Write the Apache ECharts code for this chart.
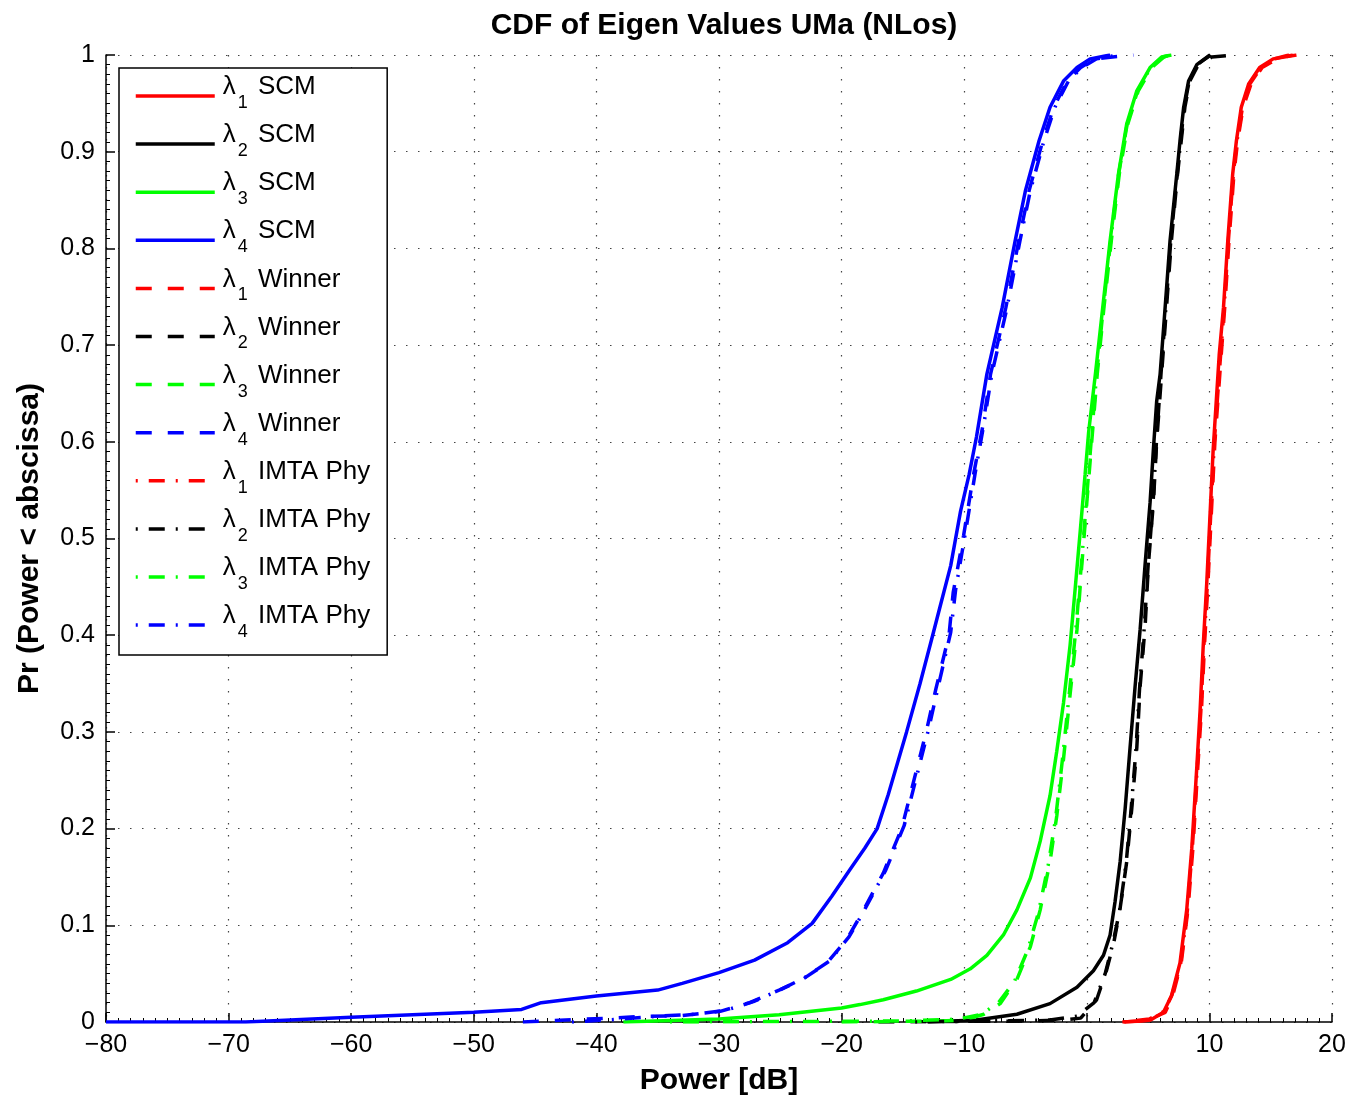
<!DOCTYPE html>
<html lang="en">
<head>
    <meta charset="UTF-8">
    <title>CDF of Eigen Values UMa (NLos)</title>
    <style>
        html, body { margin: 0; padding: 0; background: #fff; }
        #chart { width: 1353px; height: 1098px; }
    </style>
</head>
<body>
<div id="chart"></div>
<script src="https://cdn.jsdelivr.net/npm/echarts@6/dist/echarts.min.js"></script>
<script>
    // x tick labels (Power [dB]) and y ticks
    var xTicks = [-80, -70, -60, -50, -40, -30, -20, -10, 0, 10, 20];
    var yTicks = [0, 0.1, 0.2, 0.3, 0.4, 0.5, 0.6, 0.7, 0.8, 0.9, 1];

    var models = ['SCM', 'Winner', 'IMTA Phy'];
    var colors = ['#ff0000', '#000000', '#00ff00', '#0000ff'];

    // [power dB, Pr]
    // lambda 1 (red)
    var scmL1 = [[2.9, 0], [4.5, 0.001], [5.2, 0.002], [6.25, 0.01], [6.9, 0.027], [7.6, 0.061], [8.15, 0.116], [8.56, 0.179], [8.97, 0.263], [9.24, 0.322], [9.5, 0.39], [9.78, 0.453], [10.05, 0.524], [10.3, 0.59], [10.6, 0.65], [10.8, 0.69], [11.15, 0.739], [11.5, 0.808], [11.9, 0.877], [12.2, 0.911], [12.6, 0.946], [13.2, 0.97], [14.1, 0.987], [15.2, 0.996], [17.1, 1]];
    var winL1 = [[3.1, 0], [5.0, 0.002], [6.4, 0.01], [7.0, 0.027], [7.7, 0.061], [8.25, 0.116], [8.65, 0.179], [9.05, 0.263], [9.35, 0.322], [9.6, 0.39], [9.88, 0.453], [10.15, 0.524], [10.45, 0.6], [10.85, 0.67], [11.25, 0.739], [11.6, 0.808], [12.0, 0.877], [12.3, 0.911], [12.75, 0.946], [13.4, 0.97], [14.3, 0.987], [15.5, 0.996], [16.8, 1]];
    var imtL1 = [[3.0, 0], [5.1, 0.003], [6.3, 0.011], [6.95, 0.028], [7.65, 0.06], [8.2, 0.115], [8.6, 0.178], [9.0, 0.262], [9.3, 0.321], [9.55, 0.39], [9.83, 0.452], [10.1, 0.523], [10.4, 0.6], [10.8, 0.67], [11.2, 0.739], [11.55, 0.808], [11.95, 0.877], [12.25, 0.911], [12.7, 0.946], [13.3, 0.97], [14.2, 0.987], [15.3, 0.996], [16.5, 1]];

    // lambda 2 (black)
    var scmL2 = [[-13, 0], [-9, 0.002], [-5.7, 0.008], [-3, 0.019], [-0.8, 0.036], [0.54, 0.053], [1.36, 0.069], [1.9, 0.09], [2.3, 0.124], [2.72, 0.166], [3.13, 0.221], [3.53, 0.284], [3.94, 0.347], [4.35, 0.406], [4.76, 0.474], [5.16, 0.537], [5.43, 0.592], [5.7, 0.642], [5.98, 0.67], [6.39, 0.739], [6.79, 0.808], [7.34, 0.877], [7.6, 0.911], [7.9, 0.946], [8.3, 0.973], [8.97, 0.99], [10.05, 1]];
    var winL2 = [[-17, 0], [-5, 0.001], [-2, 0.002], [-0.5, 0.004], [0.8, 0.023], [1.6, 0.053], [2.2, 0.082], [2.7, 0.116], [3.26, 0.166], [3.67, 0.221], [4.08, 0.284], [4.35, 0.347], [4.76, 0.41], [5.03, 0.474], [5.43, 0.537], [5.7, 0.6], [6.1, 0.67], [6.5, 0.739], [6.9, 0.808], [7.4, 0.877], [7.7, 0.911], [8.0, 0.946], [8.4, 0.973], [9.1, 0.99], [10.2, 0.998], [12, 1]];
    var imtL2 = [[-14, 0], [-3, 0.002], [-0.8, 0.006], [0.6, 0.02], [1.5, 0.05], [2.1, 0.08], [2.65, 0.113], [3.2, 0.163], [3.6, 0.218], [4.0, 0.28], [4.3, 0.344], [4.7, 0.41], [5.0, 0.472], [5.4, 0.536], [5.68, 0.6], [6.05, 0.67], [6.45, 0.739], [6.85, 0.808], [7.38, 0.877], [7.65, 0.911], [7.95, 0.946], [8.35, 0.973], [9.0, 0.99], [10.1, 1]];

    // lambda 3 (green)
    var scmL3 = [[-37.8, 0], [-30, 0.003], [-25.1, 0.0076], [-20, 0.0145], [-18.5, 0.018], [-16.6, 0.023], [-13.9, 0.032], [-11.1, 0.044], [-9.5, 0.055], [-8.15, 0.069], [-6.8, 0.09], [-5.7, 0.116], [-4.6, 0.149], [-3.8, 0.187], [-3.0, 0.234], [-2.45, 0.28], [-1.9, 0.33], [-1.36, 0.39], [-0.95, 0.448], [-0.54, 0.507], [-0.14, 0.566], [0.15, 0.61], [0.7, 0.67], [1.3, 0.739], [1.9, 0.808], [2.58, 0.877], [3.26, 0.929], [4.08, 0.963], [5.16, 0.987], [6.1, 0.998], [6.9, 1]];
    var winL3 = [[-20, 0], [-12, 0.001], [-10, 0.002], [-8.4, 0.008], [-7.07, 0.019], [-5.7, 0.044], [-4.6, 0.078], [-3.8, 0.116], [-3.0, 0.166], [-2.45, 0.213], [-1.9, 0.272], [-1.36, 0.339], [-0.8, 0.406], [-0.4, 0.474], [0, 0.537], [0.4, 0.6], [0.85, 0.67], [1.4, 0.739], [2.0, 0.808], [2.65, 0.877], [3.35, 0.929], [4.2, 0.963], [5.3, 0.987], [6.3, 0.998], [7.0, 1]];
    var imtL3 = [[-34, 0], [-15, 0.001], [-10.5, 0.003], [-8.6, 0.008], [-7.2, 0.02], [-5.9, 0.042], [-4.8, 0.075], [-3.95, 0.113], [-3.15, 0.162], [-2.55, 0.21], [-2.0, 0.27], [-1.45, 0.337], [-0.9, 0.405], [-0.45, 0.472], [-0.05, 0.536], [0.35, 0.6], [0.8, 0.67], [1.35, 0.739], [1.95, 0.808], [2.6, 0.877], [3.3, 0.929], [4.15, 0.963], [5.2, 0.987], [6.2, 0.998], [6.9, 1]];

    // lambda 4 (blue)
    var scmL4 = [[-80, 0], [-68.6, 0], [-60, 0.0048], [-50, 0.01], [-46.1, 0.013], [-44.5, 0.02], [-40, 0.027], [-35, 0.033], [-33, 0.04], [-30, 0.051], [-27.1, 0.064], [-24.4, 0.082], [-22.4, 0.102], [-20.8, 0.13], [-19.3, 0.158], [-18.1, 0.18], [-17.1, 0.2], [-16.2, 0.235], [-14.7, 0.3], [-13.6, 0.35], [-12.57, 0.4], [-11.96, 0.43], [-11.1, 0.472], [-10.3, 0.528], [-9.6, 0.566], [-9.0, 0.605], [-8.15, 0.67], [-6.9, 0.739], [-5.84, 0.808], [-5.0, 0.86], [-3.9, 0.911], [-3.0, 0.946], [-1.9, 0.973], [-0.8, 0.987], [0.27, 0.996], [1.9, 1]];
    var winL4 = [[-46, 0], [-39, 0.004], [-35.8, 0.006], [-33, 0.0066], [-29.9, 0.011], [-27.5, 0.02], [-25.1, 0.033], [-23.2, 0.044], [-21.2, 0.061], [-19.6, 0.085], [-18.5, 0.109], [-16.6, 0.154], [-15.1, 0.2], [-13.1, 0.3], [-12.3, 0.345], [-11.24, 0.4], [-10.9, 0.444], [-10.05, 0.503], [-9.24, 0.566], [-8.5, 0.615], [-7.85, 0.67], [-6.6, 0.739], [-5.55, 0.808], [-4.7, 0.86], [-3.6, 0.911], [-2.7, 0.946], [-1.6, 0.973], [-0.5, 0.987], [0.6, 0.996], [3.8, 1]];
    var imtL4 = [[-42, 0], [-38, 0.003], [-35, 0.006], [-32, 0.008], [-29.5, 0.012], [-27.2, 0.021], [-24.9, 0.034], [-23.0, 0.046], [-21.0, 0.063], [-19.4, 0.088], [-18.3, 0.112], [-16.4, 0.157], [-14.9, 0.203], [-12.9, 0.303], [-12.1, 0.348], [-11.1, 0.403], [-10.7, 0.447], [-9.9, 0.506], [-9.1, 0.568], [-8.4, 0.618], [-7.75, 0.67], [-6.5, 0.739], [-5.45, 0.808], [-4.6, 0.86], [-3.5, 0.911], [-2.6, 0.946], [-1.5, 0.973], [-0.4, 0.987], [0.8, 0.996], [2.5, 1]];

    var allData = [
        [scmL1, scmL2, scmL3, scmL4],
        [winL1, winL2, winL3, winL4],
        [imtL1, imtL2, imtL3, imtL4]
    ];
    var dashes = ['solid', [16, 16], [2, 11, 16, 11]];

    var font = '"Liberation Sans", Arial, Helvetica, sans-serif';
    var series = [];
    var names = [];
    for (var m = 0; m < 3; m++) {
        for (var k = 0; k < 4; k++) {
            var nm = 'λ' + (k + 1) + ' ' + models[m];
            names.push(nm);
            series.push({
                name: nm,
                type: 'line',
                data: allData[m][k],
                symbol: 'none',
                showSymbol: false,
                animation: false,
                color: colors[k],
                lineStyle: { color: colors[k], width: 3.5, type: dashes[m] }
            });
        }
    }

    var mChart = echarts.init(document.getElementById('chart'));
    var option = {
        backgroundColor: '#fff',
        textStyle: { fontFamily: font },
        title: {
            text: 'CDF of Eigen Values UMa (NLos)',
            left: 719,
            textAlign: 'center',
            top: 6,
            textStyle: { fontSize: 30, fontWeight: 'bold', color: '#000', fontFamily: font }
        },
        legend: {
            data: names,
            orient: 'vertical',
            left: 119,
            top: 68,
            padding: [6, 17, 8, 15],
            itemGap: 4.1,
            itemWidth: 79,
            itemHeight: 14,
            backgroundColor: '#fff',
            borderColor: '#000',
            borderWidth: 1.5,
            borderRadius: 0,
            selectedMode: false,
            itemStyle: { opacity: 0 },
            lineStyle: { width: 3.5 },
            formatter: function (name) {
                var d = name.charAt(1);
                return '{l|λ}{s|' + d + '}{t| ' + name.slice(3) + '}';
            },
            textStyle: {
                color: '#000',
                rich: {
                    l: { fontSize: 26, fontFamily: font, color: '#000', lineHeight: 30, padding: [0, 0, 18, 3] },
                    s: { fontSize: 18, fontFamily: font, color: '#000', lineHeight: 30, padding: [14, 0, 0, 2] },
                    t: { fontSize: 26, fontFamily: font, color: '#000', lineHeight: 30, padding: [0, 0, 18, 3] }
                }
            }
        },
        grid: { left: 106, right: 21, top: 55, bottom: 76, containLabel: false, outerBoundsMode: 'none' },
        xAxis: {
            type: 'value',
            min: xTicks[0],
            max: xTicks[xTicks.length - 1],
            interval: 10,
            name: 'Power [dB]',
            nameLocation: 'middle',
            nameGap: 44,
            nameTextStyle: { fontSize: 30, fontWeight: 'bold', color: '#000', fontFamily: font },
            axisLine: { show: true, onZero: false, lineStyle: { color: '#000', width: 1.5 } },
            axisTick: { show: true, inside: true, length: 9, lineStyle: { color: '#000', width: 1.5 } },
            minorTick: { show: true, splitNumber: 10, length: 4, lineStyle: { color: '#000', width: 1 } },
            axisLabel: {
                fontSize: 25, color: '#000', margin: 11, fontFamily: font,
                formatter: function (v) { return String(v).replace('-', '\u2212'); }
            },
            splitLine: { show: true, lineStyle: { color: '#444', width: 1.2, type: [1.5, 10.5] } }
        },
        yAxis: {
            type: 'value',
            min: yTicks[0],
            max: yTicks[yTicks.length - 1],
            interval: 0.1,
            name: 'Pr (Power < abscissa)',
            nameLocation: 'middle',
            nameRotate: 90,
            nameGap: 61,
            nameTextStyle: { fontSize: 30, fontWeight: 'bold', color: '#000', fontFamily: font },
            axisLine: { show: true, onZero: false, lineStyle: { color: '#000', width: 1.5 } },
            axisTick: { show: true, inside: true, length: 9, lineStyle: { color: '#000', width: 1.5 } },
            minorTick: { show: true, splitNumber: 10, length: 4, lineStyle: { color: '#000', width: 1 } },
            axisLabel: {
                fontSize: 25, color: '#000', margin: 11, fontFamily: font,
                formatter: function (v) { return String(Math.round(v * 10) / 10); }
            },
            splitLine: { show: true, lineStyle: { color: '#444', width: 1.2, type: [1.5, 10.5] } }
        },
        series: series
    };
    mChart.setOption(option);
</script>
</body>
</html>
